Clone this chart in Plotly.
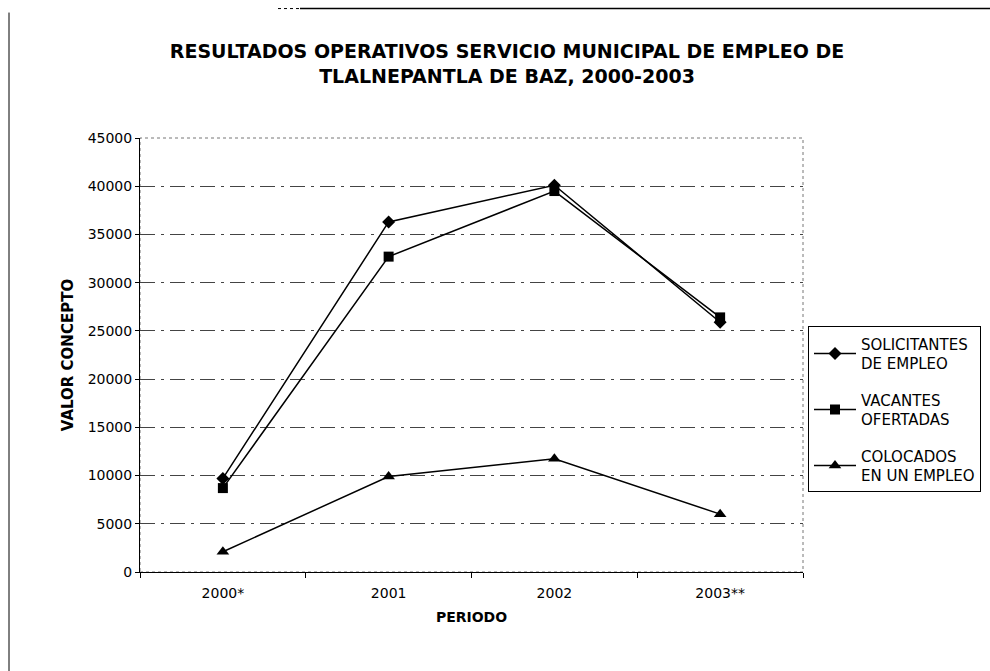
import plotly.graph_objects as go

periodos = ["2000*", "2001", "2002", "2003**"]
solicitantes = [9700, 36300, 40100, 25900]
vacantes = [8700, 32700, 39500, 26400]
colocados = [2100, 9900, 11750, 6000]
y_ticks = [0, 5000, 10000, 15000, 20000, 25000, 30000, 35000, 40000, 45000]

FONT = "DejaVu Sans, Liberation Sans, Arial, sans-serif"

fig = go.Figure()
series = [
    ("SOLICITANTES<br>DE EMPLEO", solicitantes, "diamond", 10, "g1"),
    ("VACANTES<br>OFERTADAS", vacantes, "square", 10, "g2"),
    ("COLOCADOS<br>EN UN EMPLEO", colocados, "triangle-up", 11, "g3"),
]
for name, vals, sym, sz, grp in series:
    fig.add_trace(go.Scatter(
        x=periodos, y=vals, name=name, mode="lines+markers", legendgroup=grp,
        line=dict(color="black", width=1.5),
        marker=dict(symbol=sym, size=sz, color="black"),
    ))

W, H = 990, 671
L, R, T, B = 140, 803, 137.5, 571.7
def px(x):
    return (x - L) / (R - L)
def py(y):
    return (B - y) / (B - T)

fig.update_layout(
    width=W, height=H,
    margin=dict(l=L, r=W - R, t=T, b=H - B, autoexpand=False),
    paper_bgcolor="white", plot_bgcolor="white",
    font=dict(family=FONT, size=14, color="black"),
    title=dict(
        text="<b>RESULTADOS OPERATIVOS SERVICIO MUNICIPAL DE EMPLEO DE<br>TLALNEPANTLA DE BAZ, 2000-2003</b>",
        x=507 / W, xanchor="center", xref="container", y=1 - 58 / H, yanchor="top",
        font=dict(family=FONT, size=19, color="black"),
    ),
    legend=dict(
        x=px(808), y=py(326), xanchor="left", yanchor="top",
        bordercolor="black", borderwidth=1, bgcolor="white",
        font=dict(family=FONT, size=15, color="black"),
        itemwidth=42, tracegroupgap=14,
    ),
    showlegend=True,
)
fig.update_xaxes(
    type="category", range=[-0.5, 3.5],
    showline=True, linecolor="black", linewidth=1,
    ticks="outside", tickson="boundaries", ticklen=5, tickcolor="black",
    ticklabelstandoff=8,
    showgrid=False,
    title=dict(text="<b>PERIODO</b>", font=dict(size=14, family=FONT), standoff=12),
    tickfont=dict(size=14),
)
fig.update_yaxes(
    range=[0, 45000], tickvals=y_ticks, ticktext=[str(v) for v in y_ticks],
    showline=True, linecolor="black", linewidth=1,
    ticks="outside", ticklen=4, tickcolor="black",
    showgrid=True, gridcolor="#444444", gridwidth=1, griddash="longdashdot",
    zeroline=False,
    title=dict(text="<b>VALOR CONCEPTO</b>", font=dict(size=15, family=FONT), standoff=10),
    tickfont=dict(size=14),
)
fig.add_shape(type="rect", xref="paper", yref="paper", x0=0, x1=1, y0=0, y1=1,
              line=dict(color="#777777", width=1, dash="dot"), layer="below")
fig.add_shape(type="line", xref="paper", yref="paper",
              x0=px(9), x1=px(9), y0=py(12), y1=py(671),
              line=dict(color="black", width=1))
fig.add_shape(type="line", xref="paper", yref="paper",
              x0=px(300), x1=px(990), y0=py(8), y1=py(8),
              line=dict(color="black", width=1.5))
fig.add_shape(type="line", xref="paper", yref="paper",
              x0=px(278), x1=px(300), y0=py(8), y1=py(8),
              line=dict(color="black", width=1, dash="dot"))

fig.write_html("out.html", config={"displayModeBar": False},
               post_script="document.body.style.margin='0';")
